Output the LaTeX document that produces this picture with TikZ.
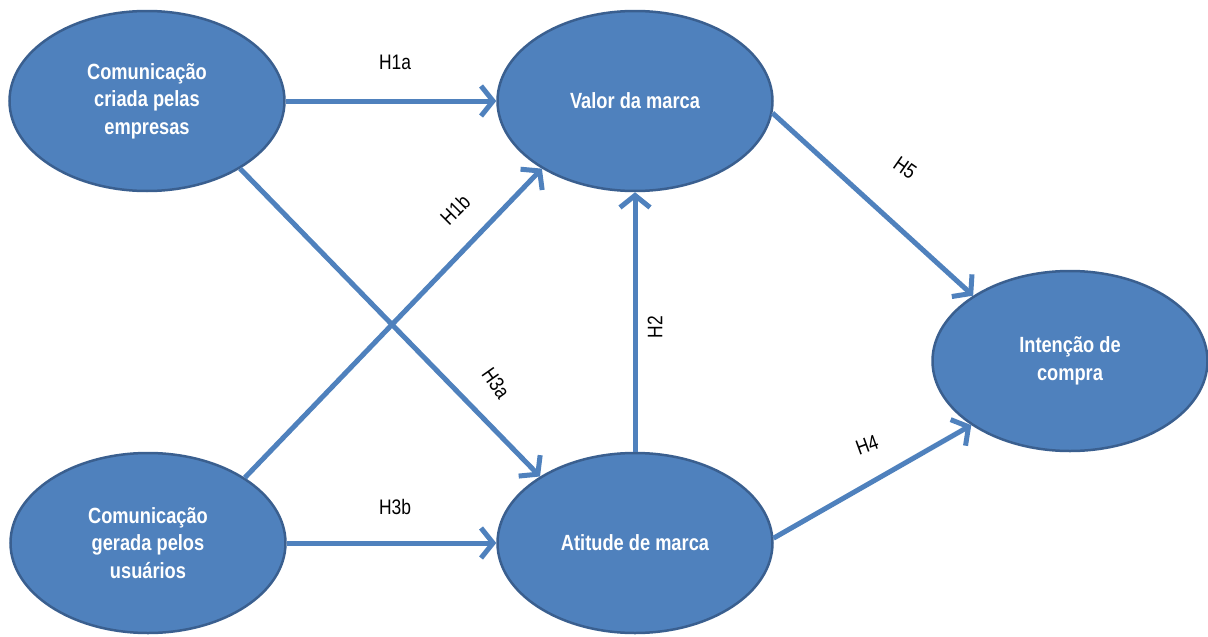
\documentclass[tikz,border=0pt]{standalone}
\usepackage{fontspec}
\newfontfamily\narrowfont[FakeStretch=0.83]{Liberation Sans}
\usetikzlibrary{shapes.geometric,arrows.meta}
\definecolor{ellfill}{HTML}{4F81BD}
\definecolor{ellline}{HTML}{3A5F8F}
\definecolor{arrcol}{HTML}{4F81BD}
\tikzset{
  construct/.style={ellipse, fill=ellfill, draw=ellline, line width=2.5pt,
    minimum width=275pt, minimum height=180pt, inner sep=0pt,
    text=white, align=center,
    font=\narrowfont\bfseries\fontsize{22pt}{27.5pt}\selectfont},
  hyp/.style={draw=arrcol, line width=5pt,
    -{Straight Barb[length=12pt,width=30pt]}},
  hlabel/.style={text=black, inner sep=0pt,
    font=\narrowfont\fontsize{21pt}{24pt}\selectfont}
}
\begin{document}
\begin{tikzpicture}[x=1pt,y=-1pt]
\useasboundingbox (0,0) rectangle (1208,637);
\node[construct] (criada) at (147,101) {Comunicação\\criada pelas\\empresas};
\node[construct] (valor) at (635,101) {Valor da marca};
\node[construct] (intencao) at (1070,361) {Intenção de\\compra};
\node[construct] (gerada) at (148,543) {Comunicação\\gerada pelos\\usuários};
\node[construct] (atitude) at (635,543) {Atitude de marca};

\draw[hyp] (criada.east) -- (valor.west);
\draw[hyp] (gerada.east) -- (atitude.west);
\draw[hyp] (atitude.north) -- (valor.south);
\draw[hyp] (gerada.34) -- (valor.216);
\draw[hyp] (criada.-36) -- (atitude.145);
\draw[hyp] (valor.-5) -- (intencao.146);
\draw[hyp] (atitude.2) -- (intencao.213);

\node[hlabel] (l1a) at (395,62) {H1a};
\node[hlabel] (l3b) at (395,507) {H3b};
\node[hlabel, rotate=45] (l1b) at (455,210) {H1b};
\node[hlabel, rotate=-55] (l3a) at (496,383) {H3a};
\node[hlabel, rotate=90] (l2) at (655,327) {H2};
\node[hlabel, rotate=-35] (l5) at (905,168) {H5};
\node[hlabel, rotate=20] (l4) at (867,445) {H4};
\end{tikzpicture}
\end{document}
